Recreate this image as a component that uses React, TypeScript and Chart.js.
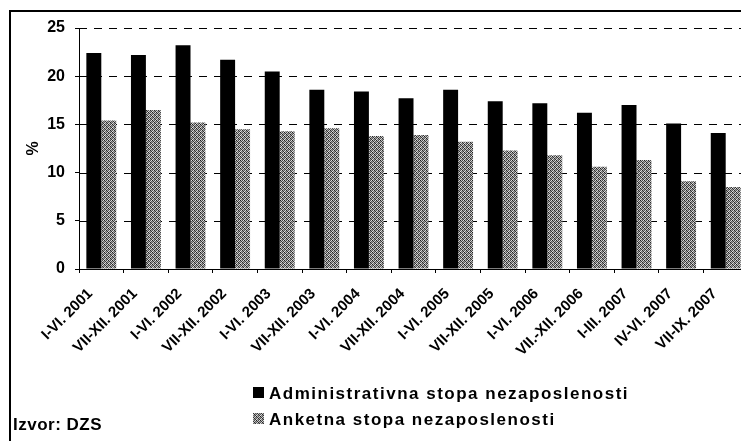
import React, { useEffect, useRef } from "react";
import { Chart, registerables } from "chart.js";

Chart.register(...registerables);

const categories = [
  "I-VI. 2001",
  "VII-XII. 2001",
  "I-VI. 2002",
  "VII-XII. 2002",
  "I-VI. 2003",
  "VII-XII. 2003",
  "I-VI. 2004",
  "VII-XII. 2004",
  "I-VI. 2005",
  "VII-XII. 2005",
  "I-VI. 2006",
  "VII.-XII. 2006",
  "I-III. 2007",
  "IV-VI. 2007",
  "VII-IX. 2007",
];

const adminRate = [22.4, 22.2, 23.2, 21.7, 20.5, 18.6, 18.4, 17.7, 18.6, 17.4, 17.2, 16.2, 17.0, 15.1, 14.1];
const surveyRate = [15.4, 16.5, 15.2, 14.5, 14.3, 14.6, 13.8, 13.9, 13.2, 12.3, 11.8, 10.6, 11.3, 9.1, 8.5];

const seriesLabels = ["Administrativna stopa nezaposlenosti", "Anketna stopa nezaposlenosti"];
const yMin = 0;
const yMax = 25;
const yStep = 5;
const yTitle = "%";
const sourceText = "Izvor: DZS";

const FONT = "'Liberation Sans', Arial, sans-serif";

function makeDitherPattern(): CanvasPattern | string {
  const tile = document.createElement("canvas");
  tile.width = 4;
  tile.height = 4;
  const tctx = tile.getContext("2d");
  if (!tctx) return "#7d7d7d";
  const levels = [
    [30, 190, 75, 220],
    [155, 55, 205, 95],
    [90, 215, 40, 165],
    [225, 115, 145, 50],
  ];
  const img = tctx.createImageData(4, 4);
  for (let r = 0; r < 4; r++) {
    for (let c = 0; c < 4; c++) {
      const v = levels[r][c];
      const i = (r * 4 + c) * 4;
      img.data[i] = v;
      img.data[i + 1] = v;
      img.data[i + 2] = v;
      img.data[i + 3] = 255;
    }
  }
  tctx.putImageData(img, 0, 0);
  const mainCtx = document.createElement("canvas").getContext("2d");
  const pat = mainCtx ? mainCtx.createPattern(tile, "repeat") : null;
  return pat || "#7d7d7d";
}

export default function App() {
  const canvasRef = useRef<HTMLCanvasElement>(null);

  useEffect(() => {
    document.body.style.margin = "0";
    const canvas = canvasRef.current;
    if (!canvas) return;
    const gray = makeDitherPattern();

    const dashedGridPlugin = {
      id: "dashedGrid",
      beforeDatasetsDraw(chart: any) {
        const ctx = chart.ctx as CanvasRenderingContext2D;
        const ys = chart.scales.y;
        const area = chart.chartArea;
        ctx.save();
        ctx.strokeStyle = "#000";
        ctx.lineWidth = 1;
        ctx.setLineDash([8, 7]);
        ys.ticks.forEach((t: any) => {
          if (t.value === yMin) return;
          const y = Math.round(ys.getPixelForValue(t.value)) + 0.5;
          ctx.beginPath();
          ctx.moveTo(area.left, y);
          ctx.lineTo(area.right, y);
          ctx.stroke();
        });
        ctx.restore();
      },
    };

    const decorPlugin = {
      id: "decor",
      afterDraw(chart: any) {
        const ctx = chart.ctx as CanvasRenderingContext2D;
        ctx.save();
        // frame
        ctx.strokeStyle = "#000";
        ctx.lineWidth = 2;
        ctx.beginPath();
        ctx.moveTo(10, 441);
        ctx.lineTo(10, 11);
        ctx.lineTo(741, 11);
        ctx.stroke();

        // legend
        const ds = chart.data.datasets;
        const legendX = 253;
        const rowsY = [387, 413];
        ctx.font = `bold 17px ${FONT}`;
        (ctx as any).letterSpacing = "1.5px";
        ctx.textBaseline = "alphabetic";
        ctx.textAlign = "left";
        ds.forEach((d: any, i: number) => {
          ctx.fillStyle = d.backgroundColor;
          ctx.fillRect(legendX, rowsY[i], 11, 11);
          ctx.fillStyle = "#000";
          ctx.fillText(d.label, legendX + 16, rowsY[i] + 12);
        });

        // source
        (ctx as any).letterSpacing = "0.5px";
        ctx.fillStyle = "#000";
        ctx.fillText(sourceText, 13, 430);
        ctx.restore();
      },
    };

    const chart = new Chart(canvas, {
      type: "bar",
      data: {
        labels: categories,
        datasets: [
          {
            label: seriesLabels[0],
            data: adminRate,
            backgroundColor: "#000",
            borderWidth: 0,
            barPercentage: 1,
            categoryPercentage: 0.67,
          },
          {
            label: seriesLabels[1],
            data: surveyRate,
            backgroundColor: gray as any,
            borderWidth: 0,
            barPercentage: 1,
            categoryPercentage: 0.67,
          },
        ],
      },
      options: {
        responsive: false,
        animation: false,
        layout: { padding: { left: 0, top: 28, right: 12, bottom: 0 } },
        plugins: {
          legend: { display: false },
          tooltip: { enabled: false },
          title: { display: false },
        },
        scales: {
          x: {
            type: "category",
            offset: true,
            grid: {
              display: true,
              drawOnChartArea: false,
              drawTicks: true,
              tickLength: 4,
              color: "#000",
              offset: true,
            },
            border: { display: true, color: "#000", width: 1 },
            ticks: {
              autoSkip: false,
              maxRotation: 45,
              minRotation: 45,
              labelOffset: -11,
              padding: 12,
              color: "#000",
              font: { family: FONT, weight: "bold", size: 15 },
            },
            afterFit(scale: any) {
              scale.height = 172;
            },
          },
          y: {
            min: yMin,
            max: yMax,
            ticks: {
              stepSize: yStep,
              padding: 10,
              color: "#000",
              font: { family: FONT, weight: "bold", size: 16 },
            },
            grid: {
              color: "#000",
              lineWidth: 1,
              tickLength: 4,
              drawTicks: true,
              drawOnChartArea: false,
            },
            border: { display: true, color: "#000", width: 1 },
            title: {
              display: true,
              text: yTitle,
              color: "#000",
              font: { family: FONT, weight: "bold", size: 16 },
              padding: { top: 24, bottom: 0 },
            },
            afterFit(scale: any) {
              scale.width = 79;
            },
          },
        },
      },
      plugins: [dashedGridPlugin, decorPlugin],
    });

    return () => {
      chart.destroy();
    };
  }, []);

  return (
    <div
      style={{
        position: "fixed",
        left: 0,
        top: 0,
        width: 741,
        height: 441,
        overflow: "hidden",
        background: "#fff",
      }}
    >
      <canvas ref={canvasRef} width={760} height={441} style={{ display: "block", width: 760, height: 441 }} />
    </div>
  );
}
